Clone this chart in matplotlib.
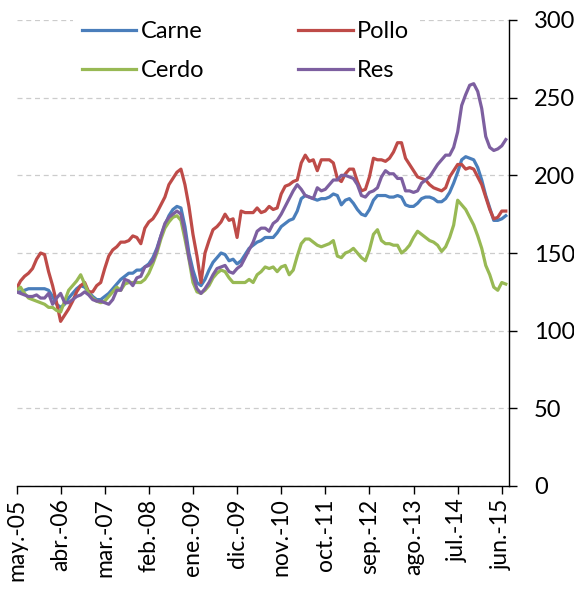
import matplotlib
matplotlib.use("Agg")
import matplotlib.pyplot as plt
import numpy as np

plt.rcParams['font.family'] = ['Lato', 'DejaVu Sans']

tick_labels = ["may.-05", "abr.-06", "mar.-07", "feb.-08", "ene.-09", "dic.-09",
               "nov.-10", "oct.-11", "sep.-12", "ago.-13", "jul.-14", "jun.-15"]

carne = [125, 125, 126, 127, 127, 127, 127, 127, 126, 122, 117, 115, 117, 121, 124, 127, 129, 128, 125, 122,
         120, 120, 122, 124, 127, 130, 133, 135, 137, 137, 139, 139, 141, 143, 147, 153, 161, 168, 174, 178,
         180, 179, 167, 150, 139, 131, 129, 133, 139, 144, 147, 150, 149, 145, 146, 143, 145, 149, 153, 155,
         157, 158, 160, 160, 160, 163, 167, 169, 171, 172, 177, 185, 187, 186, 185, 184, 185, 185, 186, 188,
         187, 181, 184, 185, 182, 178, 175, 174, 178, 184, 187, 187, 187, 186, 186, 187, 186, 181, 180, 180,
         182, 185, 186, 186, 185, 183, 183, 185, 189, 195, 202, 210, 212, 211, 210, 205, 197, 187, 179, 171,
         171, 172, 174]

pollo = [127, 132, 135, 137, 140, 146, 150, 149, 138, 129, 118, 106, 110, 114, 119, 125, 129, 131, 125, 125,
         129, 131, 140, 148, 152, 154, 157, 157, 158, 161, 160, 156, 166, 170, 172, 176, 181, 186, 194, 198,
         202, 204, 194, 180, 162, 148, 131, 150, 158, 165, 167, 170, 175, 171, 172, 160, 177, 176, 176, 176,
         179, 176, 177, 180, 178, 179, 188, 193, 194, 196, 197, 208, 213, 209, 210, 203, 210, 210, 210, 208,
         198, 196, 201, 204, 204, 196, 190, 191, 199, 211, 210, 210, 209, 211, 215, 221, 221, 211, 207, 203,
         199, 198, 197, 194, 192, 191, 190, 192, 199, 203, 207, 207, 204, 205, 204, 199, 194, 186, 178, 172,
         173, 177, 177]

cerdo = [126, 128, 124, 121, 120, 119, 118, 117, 115, 115, 113, 112, 119, 126, 129, 132, 136, 130, 124, 121,
         119, 118, 119, 122, 125, 128, 126, 130, 131, 131, 131, 131, 133, 137, 143, 150, 159, 166, 170, 173,
         174, 171, 159, 146, 131, 125, 124, 126, 129, 134, 137, 139, 138, 134, 131, 131, 131, 131, 133, 131,
         136, 138, 141, 140, 141, 138, 141, 142, 136, 139, 148, 156, 159, 159, 157, 155, 154, 155, 156, 158,
         148, 147, 150, 151, 153, 150, 147, 145, 152, 162, 165, 158, 156, 156, 155, 155, 150, 152, 155, 160,
         164, 162, 160, 158, 157, 155, 151, 154, 160, 168, 184, 181, 178, 173, 168, 161, 153, 142, 136, 128,
         126, 131, 130]

res = [125, 124, 123, 122, 122, 123, 121, 121, 124, 117, 121, 124, 118, 118, 120, 122, 123, 125, 123, 120,
       119, 119, 118, 117, 120, 126, 126, 133, 132, 129, 134, 135, 141, 142, 145, 152, 161, 169, 173, 175,
       177, 175, 163, 147, 135, 127, 124, 127, 131, 136, 140, 141, 142, 138, 137, 140, 142, 147, 152, 157,
       164, 166, 166, 164, 169, 171, 175, 180, 185, 190, 194, 191, 187, 186, 185, 192, 190, 191, 194, 197,
       197, 200, 200, 199, 198, 194, 187, 186, 189, 190, 192, 199, 203, 201, 201, 198, 198, 190, 190, 189,
       190, 195, 197, 199, 203, 207, 210, 213, 213, 218, 228, 245, 252, 258, 259, 254, 243, 225, 218, 216,
       217, 219, 223]

months = np.arange(len(carne))
tick_pos = np.arange(0, 122, 11)

fig = plt.figure(figsize=(5.74, 5.89), dpi=100)
ax = fig.add_axes([16.5/574, 1 - 486/589, (509 - 16.5)/574, 466/589])

lw = 2.3
l1, = ax.plot(months, carne, color="#4A7EBB", lw=lw, label="Carne")
l2, = ax.plot(months, pollo, color="#BE4B48", lw=lw, label="Pollo")
l3, = ax.plot(months, cerdo, color="#98B954", lw=lw, label="Cerdo")
l4, = ax.plot(months, res, color="#7D5FA0", lw=lw, label="Res")

ax.set_xlim(0, 122.8)
ax.set_ylim(0, 300)
ax.set_yticks(np.arange(0, 301, 50))
ax.yaxis.tick_right()
ax.grid(axis="y", color="#cccccc", linestyle=(0, (4, 3)), lw=0.9)
ax.set_axisbelow(True)

for s in ["left", "top"]:
    ax.spines[s].set_visible(False)
ax.spines["right"].set_color("black")
ax.spines["bottom"].set_color("black")
ax.spines["right"].set_linewidth(1.0)
ax.spines["bottom"].set_linewidth(1.0)

ax.set_xticks(tick_pos)
ax.set_xticklabels(tick_labels, rotation=90, fontsize=16.5)
ax.tick_params(axis="x", direction="out", length=6, width=1, pad=3)
ax.tick_params(axis="y", direction="out", length=6, width=1, pad=12, labelsize=17)

leg = ax.legend(handles=[l1, l3, l2, l4], ncol=2, loc="upper left",
                bbox_to_anchor=(0.114, 1.018), frameon=True, fontsize=17,
                handlelength=2.3, handletextpad=0.17, columnspacing=4.0,
                labelspacing=0.78, borderaxespad=0)
leg.get_frame().set_edgecolor("none")
leg.get_frame().set_facecolor("white")
leg.get_frame().set_alpha(1)

fig.savefig("out.png", dpi=100)
